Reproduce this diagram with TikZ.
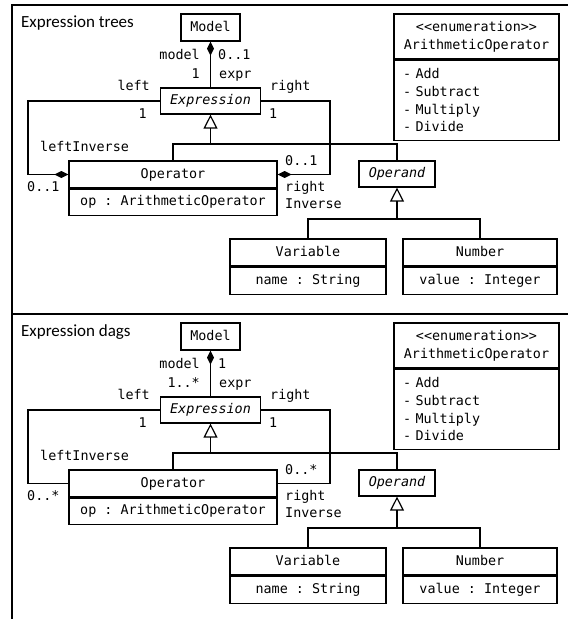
\documentclass[tikz,border=0pt]{standalone}
\usepackage{fontspec}
\setmainfont{Carlito}
\setmonofont{DejaVu Sans Mono}
\usetikzlibrary{arrows.meta,positioning}

\tikzset{
  umlfont/.style={font=\ttfamily\fontsize{13.4}{17.7}\selectfont},
  cls/.style={draw, line width=1.2pt, umlfont, inner sep=0pt, text height=10pt, text depth=3pt, minimum height=27pt, fill=white},
  abstr/.style={cls, font=\ttfamily\itshape\fontsize{13.4}{17.7}\selectfont},
  enumhead/.style={draw, line width=1.2pt, umlfont, align=center, inner sep=0pt, minimum width=165pt, minimum height=45pt},
  enumlits/.style={draw, line width=1.2pt, umlfont, align=left, text width=147pt, inner xsep=9pt, inner ysep=0pt, minimum height=80pt},
  lbl/.style={umlfont, inner sep=0pt, text height=10pt, text depth=3pt},
  conn/.style={line width=1.2pt},
  comp/.style={conn, -{Diamond[length=14pt,width=7pt]}},
  gen/.style={conn, -{Triangle[open,length=14pt,width=14pt]}},
  paneltitle/.style={font=\fontsize{17}{20}\selectfont, inner sep=0pt, anchor=west},
}

\begin{document}
\begin{tikzpicture}[x=1pt,y=-1pt]
  \useasboundingbox (0,0) rectangle (568,619);

  % frame
  \draw[conn] (568,5) -| (12,619);
  \draw[conn] (12,314) -- (568,314);

  % expression trees
  \node[paneltitle] (title1) at (21,23) {Expression trees};
  \node[cls, minimum width=59pt] (model1) at (210.5,27.5) {Model};
  \node[abstr, minimum width=100pt, minimum height=26pt] (expr1) at (210.5,101) {Expression};
  \node[cls, minimum width=208pt] (op1) at (173,174.5) {Operator};
  \node[cls, minimum width=208pt, minimum height=26pt, below=0pt of op1] (opattr1) {op : ArithmeticOperator};
  \node[abstr, minimum width=76pt, minimum height=26pt] (operand1) at (397,174) {Operand};
  \node[cls, minimum width=156pt] (var1) at (308,252.5) {Variable};
  \node[cls, minimum width=156pt, below=0pt of var1] (varattr1) {name : String};
  \node[cls, minimum width=154pt] (num1) at (480,252.5) {Number};
  \node[cls, minimum width=154pt, below=0pt of num1] (numattr1) {value : Integer};
  \node[enumhead] (enum1) at (476.5,36.5) {\string<\string<enumeration\string>\string>\\ArithmeticOperator};
  \node[enumlits, below=0pt of enum1] (lits1) {- Add\\- Subtract\\- Multiply\\- Divide};

  \coordinate (lc1) at (28,101);
  \coordinate (rc1) at (330,101);
  \coordinate (g1) at (210.5,144);
  \coordinate (h1) at (397,219);

  \draw[comp] (expr1.north) -- (model1.south);
  \draw[comp] (expr1.west) -- (lc1) |- (op1.west);
  \draw[comp] (expr1.east) -- (rc1) |- (op1.east);
  \draw[gen] (g1) -- (expr1.south);
  \draw[conn] (op1.north) |- (g1) -| (operand1.north);
  \draw[gen] (h1) -- (operand1.south);
  \draw[conn] (var1.north) |- (h1) -| (num1.north);

  \node[lbl, anchor=east] (mrole1) at (200,56) {model};
  \node[lbl, anchor=west] (mmult1) at (218,56) {0..1};
  \node[lbl, anchor=east] (emult1) at (200,75) {1};
  \node[lbl, anchor=west] (erole1) at (219,75) {expr};
  \node[lbl, anchor=east] (lrole1) at (150,87) {left};
  \node[lbl, anchor=west] (rrole1) at (270,87) {right};
  \node[lbl, anchor=east] (lmult1) at (147,115) {1};
  \node[lbl, anchor=west] (rmult1) at (269,115) {1};
  \node[lbl, anchor=west] (lirole1) at (40,148) {leftInverse};
  \node[lbl, anchor=west] (limult1) at (27,188) {0..1};
  \node[lbl, anchor=west] (rimult1) at (285,162) {0..1};
  \node[lbl, anchor=west] (rirole1) at (285,188) {right};
  \node[lbl, anchor=west] (rirole1b) at (285,205) {Inverse};

  % expression dags
  \node[paneltitle] (title2) at (21,332) {Expression dags};
  \node[cls, minimum width=59pt] (model2) at (210.5,336.5) {Model};
  \node[abstr, minimum width=100pt, minimum height=26pt] (expr2) at (210.5,410) {Expression};
  \node[cls, minimum width=208pt] (op2) at (173,483.5) {Operator};
  \node[cls, minimum width=208pt, minimum height=26pt, below=0pt of op2] (opattr2) {op : ArithmeticOperator};
  \node[abstr, minimum width=76pt, minimum height=26pt] (operand2) at (397,483) {Operand};
  \node[cls, minimum width=156pt] (var2) at (308,561.5) {Variable};
  \node[cls, minimum width=156pt, below=0pt of var2] (varattr2) {name : String};
  \node[cls, minimum width=154pt] (num2) at (480,561.5) {Number};
  \node[cls, minimum width=154pt, below=0pt of num2] (numattr2) {value : Integer};
  \node[enumhead] (enum2) at (476.5,345.5) {\string<\string<enumeration\string>\string>\\ArithmeticOperator};
  \node[enumlits, below=0pt of enum2] (lits2) {- Add\\- Subtract\\- Multiply\\- Divide};

  \coordinate (lc2) at (28,410);
  \coordinate (rc2) at (330,410);
  \coordinate (g2) at (210.5,453);
  \coordinate (h2) at (397,528);

  \draw[comp] (expr2.north) -- (model2.south);
  \draw[conn] (expr2.west) -- (lc2) |- (op2.west);
  \draw[conn] (expr2.east) -- (rc2) |- (op2.east);
  \draw[gen] (g2) -- (expr2.south);
  \draw[conn] (op2.north) |- (g2) -| (operand2.north);
  \draw[gen] (h2) -- (operand2.south);
  \draw[conn] (var2.north) |- (h2) -| (num2.north);

  \node[lbl, anchor=east] (mrole2) at (200,365) {model};
  \node[lbl, anchor=west] (mmult2) at (218,365) {1};
  \node[lbl, anchor=east] (emult2) at (200,384) {1..*};
  \node[lbl, anchor=west] (erole2) at (219,384) {expr};
  \node[lbl, anchor=east] (lrole2) at (150,396) {left};
  \node[lbl, anchor=west] (rrole2) at (270,396) {right};
  \node[lbl, anchor=east] (lmult2) at (147,424) {1};
  \node[lbl, anchor=west] (rmult2) at (269,424) {1};
  \node[lbl, anchor=west] (lirole2) at (40,457) {leftInverse};
  \node[lbl, anchor=west] (limult2) at (27,497) {0..*};
  \node[lbl, anchor=west] (rimult2) at (285,471) {0..*};
  \node[lbl, anchor=west] (rirole2) at (285,497) {right};
  \node[lbl, anchor=west] (rirole2b) at (285,514) {Inverse};
\end{tikzpicture}
\end{document}
